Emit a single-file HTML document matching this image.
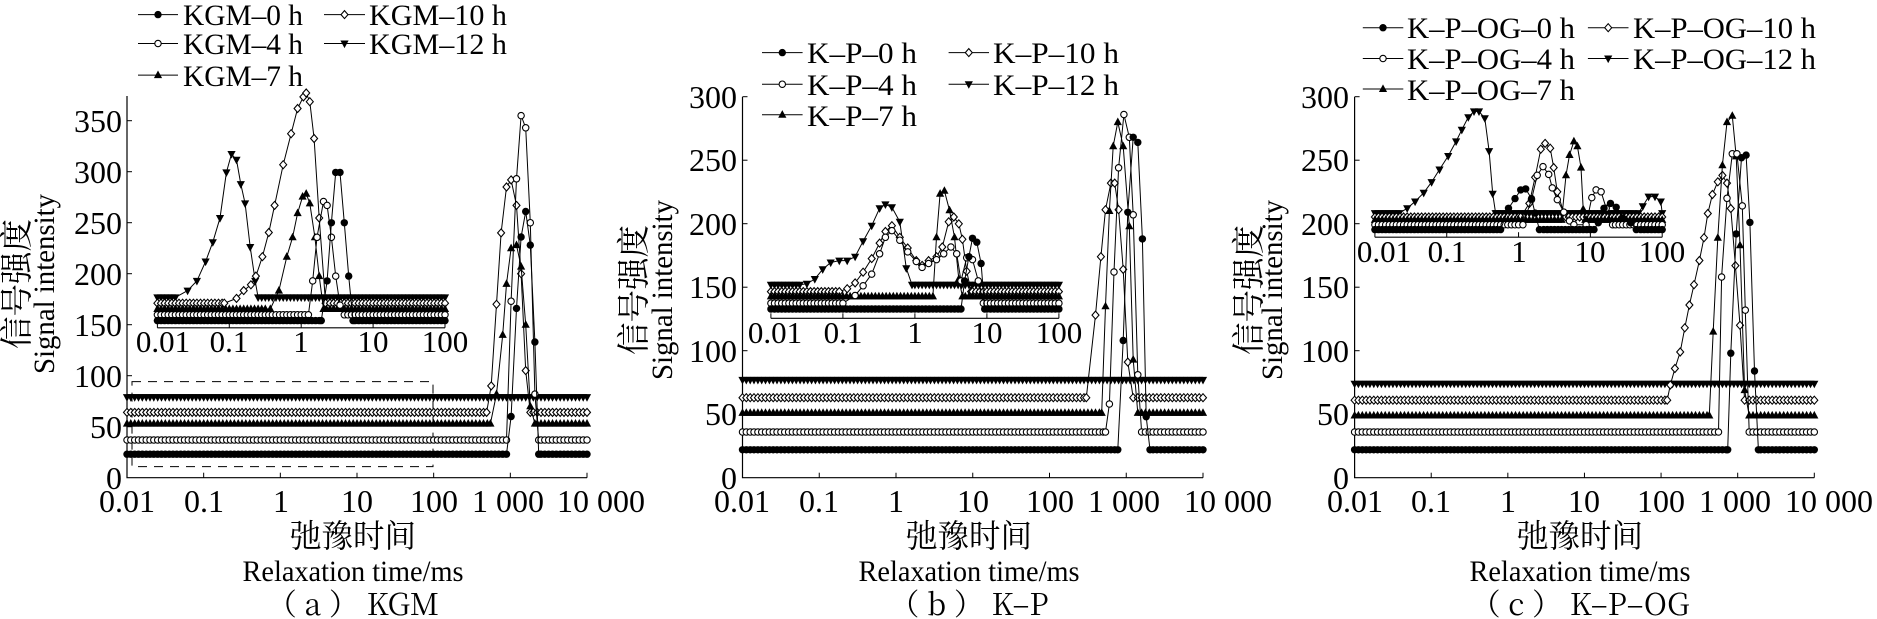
<!DOCTYPE html>
<html><head><meta charset="utf-8">
<style>
html,body{margin:0;padding:0;background:#fff;}
svg{display:block;}
text{font-family:"Liberation Serif","Noto Serif CJK SC",serif;fill:#000;}
.cjk{font-family:"Noto Serif CJK SC","Noto Sans CJK SC",serif;}
</style></head>
<body>
<svg id="s" width="1877" height="619" viewBox="0 0 1877 619" xmlns="http://www.w3.org/2000/svg">
<g font-size="32">
<text x="122" y="489" text-anchor="end">0</text>
<text x="122" y="438" text-anchor="end">50</text>
<text x="122" y="387" text-anchor="end">100</text>
<text x="122" y="336" text-anchor="end">150</text>
<text x="122" y="285" text-anchor="end">200</text>
<text x="122" y="234" text-anchor="end">250</text>
<text x="122" y="183" text-anchor="end">300</text>
<text x="122" y="132" text-anchor="end">350</text>
<text x="737" y="489" text-anchor="end">0</text>
<text x="737" y="425" text-anchor="end">50</text>
<text x="737" y="362" text-anchor="end">100</text>
<text x="737" y="298" text-anchor="end">150</text>
<text x="737" y="235" text-anchor="end">200</text>
<text x="737" y="171" text-anchor="end">250</text>
<text x="737" y="108" text-anchor="end">300</text>
<text x="1349" y="489" text-anchor="end">0</text>
<text x="1349" y="425" text-anchor="end">50</text>
<text x="1349" y="362" text-anchor="end">100</text>
<text x="1349" y="298" text-anchor="end">150</text>
<text x="1349" y="235" text-anchor="end">200</text>
<text x="1349" y="171" text-anchor="end">250</text>
<text x="1349" y="108" text-anchor="end">300</text>
</g>
<g font-size="32" text-anchor="middle">
<text x="127" y="512">0.01</text><text x="204" y="512">0.1</text><text x="281" y="512">1</text><text x="357" y="512">10</text><text x="434" y="512">100</text><text x="508" y="512">1 000</text><text x="557" y="512" text-anchor="start">10 000</text>
<text x="742" y="512">0.01</text><text x="819" y="512">0.1</text><text x="896" y="512">1</text><text x="973" y="512">10</text><text x="1050" y="512">100</text><text x="1124" y="512">1 000</text><text x="1184" y="512" text-anchor="start">10 000</text>
<text x="1355" y="512">0.01</text><text x="1431" y="512">0.1</text><text x="1508" y="512">1</text><text x="1584" y="512">10</text><text x="1661" y="512">100</text><text x="1735" y="512">1 000</text><text x="1785" y="512" text-anchor="start">10 000</text>
</g>
<g font-size="31" text-anchor="middle">
<text x="163" y="352">0.01</text><text x="229" y="352">0.1</text><text x="301" y="352">1</text><text x="373" y="352">10</text><text x="445" y="352">100</text>
<text x="775" y="343">0.01</text><text x="843" y="343">0.1</text><text x="915" y="343">1</text><text x="987" y="343">10</text><text x="1059" y="343">100</text>
<text x="1384" y="262">0.01</text><text x="1447" y="262">0.1</text><text x="1519" y="262">1</text><text x="1590" y="262">10</text><text x="1662" y="262">100</text>
</g>
<g text-anchor="middle">
<text class="cjk" font-size="33" textLength="130" lengthAdjust="spacingAndGlyphs" transform="translate(28,284) rotate(-90)">信号强度</text>
<text font-size="30" textLength="180" lengthAdjust="spacingAndGlyphs" transform="translate(54,284) rotate(-90)">Signal intensity</text>
<text class="cjk" font-size="33" textLength="130" lengthAdjust="spacingAndGlyphs" transform="translate(645,290) rotate(-90)">信号强度</text>
<text font-size="30" textLength="180" lengthAdjust="spacingAndGlyphs" transform="translate(672,290) rotate(-90)">Signal intensity</text>
<text class="cjk" font-size="33" textLength="130" lengthAdjust="spacingAndGlyphs" transform="translate(1260,290) rotate(-90)">信号强度</text>
<text font-size="30" textLength="180" lengthAdjust="spacingAndGlyphs" transform="translate(1282,290) rotate(-90)">Signal intensity</text>
<text class="cjk" font-size="32" textLength="126" lengthAdjust="spacingAndGlyphs" x="353" y="547">弛豫时间</text>
<text font-size="30" textLength="221" lengthAdjust="spacingAndGlyphs" x="353" y="581">Relaxation time/ms</text>
<text font-size="30" x="353" y="615" class="cjk">（ a ） KGM</text>
<text class="cjk" font-size="32" textLength="126" lengthAdjust="spacingAndGlyphs" x="969" y="547">弛豫时间</text>
<text font-size="30" textLength="221" lengthAdjust="spacingAndGlyphs" x="969" y="581">Relaxation time/ms</text>
<text font-size="30" x="969" y="615" class="cjk">（ b ） K–P</text>
<text class="cjk" font-size="32" textLength="126" lengthAdjust="spacingAndGlyphs" x="1580" y="547">弛豫时间</text>
<text font-size="30" textLength="221" lengthAdjust="spacingAndGlyphs" x="1580" y="581">Relaxation time/ms</text>
<text font-size="30" x="1580" y="615" class="cjk">（ c ） K–P–OG</text>
</g>
<g font-size="30">
<text x="183" y="25" textLength="120" lengthAdjust="spacingAndGlyphs">KGM–0 h</text><text x="369" y="25" textLength="138" lengthAdjust="spacingAndGlyphs">KGM–10 h</text>
<text x="183" y="54" textLength="120" lengthAdjust="spacingAndGlyphs">KGM–4 h</text><text x="369" y="54" textLength="138" lengthAdjust="spacingAndGlyphs">KGM–12 h</text>
<text x="183" y="86" textLength="120" lengthAdjust="spacingAndGlyphs">KGM–7 h</text>
<text x="807" y="63" textLength="110" lengthAdjust="spacingAndGlyphs">K–P–0 h</text><text x="993" y="63" textLength="126" lengthAdjust="spacingAndGlyphs">K–P–10 h</text>
<text x="807" y="95" textLength="110" lengthAdjust="spacingAndGlyphs">K–P–4 h</text><text x="993" y="95" textLength="126" lengthAdjust="spacingAndGlyphs">K–P–12 h</text>
<text x="807" y="126" textLength="110" lengthAdjust="spacingAndGlyphs">K–P–7 h</text>
<text x="1407" y="38" textLength="168" lengthAdjust="spacingAndGlyphs">K–P–OG–0 h</text><text x="1633" y="38" textLength="183" lengthAdjust="spacingAndGlyphs">K–P–OG–10 h</text>
<text x="1407" y="69" textLength="168" lengthAdjust="spacingAndGlyphs">K–P–OG–4 h</text><text x="1633" y="69" textLength="183" lengthAdjust="spacingAndGlyphs">K–P–OG–12 h</text>
<text x="1407" y="100" textLength="168" lengthAdjust="spacingAndGlyphs">K–P–OG–7 h</text>
</g>
<g id="g"></g>
</svg>
<script>
var out=[];
function mk(t,x,y){
 x=+x.toFixed(1);y=+y.toFixed(1);
 if(t==0) out.push('<circle cx="'+x+'" cy="'+y+'" r="3.7" fill="#000"/>');
 else if(t==1) out.push('<circle cx="'+x+'" cy="'+y+'" r="3.2" fill="#fff" stroke="#000" stroke-width="1.1"/>');
 else if(t==2) out.push('<path d="M'+x+' '+(y-4.6)+'L'+(x+4.1)+' '+(y+3)+'L'+(x-4.1)+' '+(y+3)+'Z" fill="#000"/>');
 else if(t==3) out.push('<path d="M'+x+' '+(y-4)+'L'+(x+3.5)+' '+y+'L'+x+' '+(y+4)+'L'+(x-3.5)+' '+y+'Z" fill="#fff" stroke="#000" stroke-width="1.1"/>');
 else out.push('<path d="M'+x+' '+(y+4.6)+'L'+(x+4.1)+' '+(y-3)+'L'+(x-4.1)+' '+(y-3)+'Z" fill="#000"/>');
}
function series(t,base,pts,lo,hi,step,fx,fy){
 var segs=[];
 pts.forEach(function(p,i){
  if(i==0||p[0]-pts[i-1][0]>0.3) segs.push([p[0],p[0]]); else segs[segs.length-1][1]=p[0];
 });
 var a=[];
 for(var lt=lo;lt<=hi+1e-9;lt+=step){
  var skip=false;
  segs.forEach(function(s){if(lt>s[0]-0.02&&lt<s[1]+0.02)skip=true;});
  if(!skip)a.push([lt,base]);
 }
 a=a.concat(pts);a.sort(function(p,q){return p[0]-q[0];});
 var d='';
 a.forEach(function(p,i){d+=(i?'L':'M')+fx(p[0]).toFixed(1)+' '+fy(p[1]).toFixed(1);});
 out.push('<path d="'+d+'" fill="none" stroke="#000" stroke-width="1"/>');
 a.forEach(function(p){mk(t,fx(p[0]),fy(p[1]));});
}
function legend(x0,x1,ys){
 ys.forEach(function(y,i){
  out.push('<line x1="'+x0[0]+'" x2="'+x0[1]+'" y1="'+y+'" y2="'+y+'" stroke="#000"/>');mk(i==0?0:i==1?1:2,(x0[0]+x0[1])/2,y);
  if(i<2){out.push('<line x1="'+x1[0]+'" x2="'+x1[1]+'" y1="'+y+'" y2="'+y+'" stroke="#000"/>');mk(i==0?3:4,(x1[0]+x1[1])/2,y);}
 });
}
function axes(ax0,ax1,yb,ytop,ppu,maxv){
 out.push('<path d="M'+ax0+' '+ytop+'V'+yb+'H'+ax1+'" fill="none" stroke="#000" stroke-width="1.2"/>');
 for(var i=0;i<=6;i++){var x=ax0+i*(ax1-ax0)/6;out.push('<line x1="'+x+'" x2="'+x+'" y1="'+yb+'" y2="'+(yb-5)+'" stroke="#000"/>');}
 for(var v=50;v<=maxv;v+=50){var y=yb-v*ppu;out.push('<line x1="'+ax0+'" x2="'+(ax0+5)+'" y1="'+y+'" y2="'+y+'" stroke="#000"/>');}
}
function inAx(x0,x1,yb){
 out.push('<line x1="'+x0+'" x2="'+x1+'" y1="'+yb+'" y2="'+yb+'" stroke="#000" stroke-width="1.2"/>');
 for(var i=0;i<=4;i++){var x=x0+i*(x1-x0)/4;out.push('<line x1="'+x+'" x2="'+x+'" y1="'+yb+'" y2="'+(yb-5)+'" stroke="#000"/>');}
}
var K=0.9687;
(function(){
 var ax0=127,ax1=587,yb=477.7,ppu=51/50;
 axes(ax0,ax1,yb,96,ppu,350);
 var fx=function(l){return ax0+(l+2)*(ax1-ax0)/6},fy=function(v){return yb-v*ppu};
 out.push('<rect x="132" y="381.6" width="301" height="85" fill="none" stroke="#000" stroke-dasharray="9,7"/>');
 series(4,79,[],-2,4,0.05,fx,fy);
 series(3,64,[[2.69,64],[2.75,90],[2.82,170],[2.88,240],[2.95,285],[3.01,292],[3.08,267],[3.14,200],[3.20,105],[3.26,64]],-2,4,0.05,fx,fy);
 series(2,53,[[2.74,53],[2.82,82],[2.90,140],[2.95,190],[3.01,225],[3.08,228],[3.14,207],[3.20,150],[3.26,70],[3.32,53]],-2,4,0.05,fx,fy);
 series(1,37,[[2.95,37],[3.01,173],[3.08,293],[3.14,355],[3.20,343],[3.26,250],[3.32,82],[3.37,37]],-2,4,0.05,fx,fy);
 series(0,23,[[2.95,23],[3.01,60],[3.08,166],[3.14,236],[3.20,261],[3.26,228],[3.32,133],[3.37,23]],-2,4,0.05,fx,fy);
 var i0=157.4,i1=445;
 inAx(i0,i1,327.8);
 var ix=function(l){return i0+(l+2)*(i1-i0)/4},iy=function(y){return y*K};
 series(4,307,[[-1.75,307],[-1.58,300],[-1.45,290],[-1.33,270],[-1.23,250],[-1.13,225],[-1.04,178],[-0.97,159],[-0.90,165],[-0.84,190],[-0.78,210],[-0.71,255],[-0.64,290],[-0.60,307]],-2,2,0.05,ix,iy);
 series(3,313,[[-1.07,313],[-0.90,308],[-0.80,300],[-0.70,294],[-0.63,285],[-0.54,265],[-0.45,240],[-0.37,212],[-0.25,170],[-0.14,138],[-0.05,112],[0.03,100],[0.07,96],[0.12,105],[0.18,143],[0.25,225],[0.34,313]],-2,2,0.05,ix,iy);
 series(2,319,[[-0.43,319],[-0.31,300],[-0.20,265],[-0.12,245],[-0.05,220],[0.02,203],[0.07,200],[0.12,210],[0.19,245],[0.25,285],[0.31,319]],-2,2,0.05,ix,iy);
 series(1,325,[[0.10,325],[0.16,290],[0.22,245],[0.31,208],[0.36,212],[0.42,245],[0.48,285],[0.54,315],[0.60,325]],-2,2,0.05,ix,iy);
 series(0,331,[[0.28,331],[0.36,290],[0.42,230],[0.48,178],[0.54,178],[0.60,230],[0.66,285],[0.72,331]],-2,2,0.05,ix,iy);
 legend([138,178],[324,365],[14.6,43.5,75.1]);
})();
(function(){
 var ax0=742.5,ax1=1203,yb=477.7,ppu=63.5/50;
 axes(ax0,ax1,yb,96.9,ppu,300);
 var fx=function(l){return ax0+(l+2)*(ax1-ax0)/6},fy=function(v){return yb-v*ppu};
 series(4,77,[],-2,4,0.05,fx,fy);
 series(3,63,[[2.48,63],[2.60,128],[2.67,174],[2.73,211],[2.80,232],[2.85,232],[2.90,211],[2.96,164],[3.02,91],[3.09,63]],-2,4,0.05,fx,fy);
 series(2,51,[[2.68,51],[2.73,135],[2.78,210],[2.83,261],[2.89,280],[2.96,261],[3.04,198],[3.09,93],[3.15,51]],-2,4,0.05,fx,fy);
 series(1,36,[[2.73,36],[2.78,58],[2.84,162],[2.90,244],[2.97,286],[3.04,268],[3.09,207],[3.15,81],[3.20,36]],-2,4,0.05,fx,fy);
 series(0,22,[[2.89,22],[2.96,108],[3.02,209],[3.09,268],[3.15,264],[3.21,188],[3.26,48],[3.31,22]],-2,4,0.05,fx,fy);
 var i0=770.9,i1=1058.9;
 inAx(i0,i1,318.3);
 var ix=function(l){return i0+(l+2)*(i1-i0)/4},iy=function(y){return y*K};
 series(4,294,[[-1.60,294],[-1.50,293],[-1.39,288],[-1.28,278],[-1.17,271],[-1.05,269],[-0.94,269],[-0.83,265],[-0.72,249],[-0.60,233],[-0.49,215],[-0.41,211],[-0.32,214],[-0.21,229],[-0.12,277],[-0.04,294]],-2,2,0.05,ix,iy);
 series(3,301,[[-1.05,301],[-0.94,298],[-0.83,292],[-0.72,281],[-0.60,267],[-0.49,251],[-0.41,239],[-0.32,233],[-0.21,245],[-0.10,256],[0.02,269],[0.10,274],[0.19,269],[0.30,265],[0.38,255],[0.47,229],[0.54,224],[0.61,231],[0.66,247],[0.72,280],[0.78,301]],-2,2,0.05,ix,iy);
 series(2,306,[[0.25,306],[0.30,245],[0.35,200],[0.41,197],[0.48,217],[0.55,245],[0.61,288],[0.66,306]],-2,2,0.05,ix,iy);
 series(1,313,[[-1.0,313],[-0.83,305],[-0.72,295],[-0.60,283],[-0.49,262],[-0.41,245],[-0.32,238],[-0.21,248],[-0.10,260],[0.02,270],[0.10,276],[0.19,272],[0.30,268],[0.40,262],[0.50,255],[0.58,262],[0.64,290],[0.72,266],[0.80,268],[0.88,290],[0.95,313]],-2,2,0.05,ix,iy);
 series(0,319,[[0.64,319],[0.69,290],[0.75,265],[0.80,246],[0.86,250],[0.92,272],[0.97,319]],-2,2,0.05,ix,iy);
 legend([762,802.6],[948.6,989],[52.6,84.2,114.7]);
})();
(function(){
 var ax0=1354.6,ax1=1814.3,yb=477.7,ppu=63.5/50;
 axes(ax0,ax1,yb,96.9,ppu,300);
 var fx=function(l){return ax0+(l+2)*(ax1-ax0)/6},fy=function(v){return yb-v*ppu};
 series(4,74,[],-2,4,0.05,fx,fy);
 series(3,61,[[2.08,61],[2.12,73],[2.18,86],[2.25,99],[2.31,118],[2.37,136],[2.43,152],[2.50,171],[2.56,189],[2.61,208],[2.67,223],[2.74,233],[2.80,238],[2.86,232],[2.91,212],[2.97,167],[3.03,120],[3.09,61]],-2,4,0.05,fx,fy);
 series(2,49,[[2.63,49],[2.68,115],[2.74,189],[2.80,246],[2.86,280],[2.93,285],[2.98,253],[3.03,183],[3.09,69],[3.15,49]],-2,4,0.05,fx,fy);
 series(1,36,[[2.75,36],[2.79,158],[2.86,220],[2.93,255],[2.99,255],[3.06,214],[3.10,132],[3.15,36]],-2,4,0.05,fx,fy);
 series(0,22,[[2.87,22],[2.91,98],[2.98,192],[3.05,252],[3.11,254],[3.16,201],[3.22,84],[3.27,22]],-2,4,0.05,fx,fy);
 var i0=1374.9,i1=1662.2;
 inAx(i0,i1,237.2);
 var ix=function(l){return i0+(l+2)*(i1-i0)/4},iy=function(y){return y*K};
 series(4,220,[[-1.66,220],[-1.55,215],[-1.44,208],[-1.32,199],[-1.21,188],[-1.10,175],[-0.98,161],[-0.87,146],[-0.79,134],[-0.70,121],[-0.62,115],[-0.55,115],[-0.47,122],[-0.41,156],[-0.36,200],[-0.32,220],[1.67,220],[1.73,213],[1.81,203],[1.90,203],[1.98,208]],-2,2,0.05,ix,iy);
 series(3,224,[[0.03,224],[0.15,210],[0.23,183],[0.31,154],[0.37,148],[0.44,153],[0.49,173],[0.54,198],[0.63,220],[0.66,224]],-2,2,0.05,ix,iy);
 series(2,227,[[0.60,227],[0.66,181],[0.71,160],[0.77,146],[0.82,151],[0.87,173],[0.90,216],[0.93,227]],-2,2,0.05,ix,iy);
 series(1,232,[[0.06,232],[0.18,206],[0.26,181],[0.34,172],[0.42,180],[0.47,194],[0.54,206],[0.63,219],[0.71,228],[0.77,232],[0.94,232],[1.02,204],[1.08,196],[1.15,198],[1.22,215],[1.31,232]],-2,2,0.05,ix,iy);
 series(0,237,[[-0.25,237],[-0.14,215],[-0.05,205],[0.03,196],[0.10,195],[0.18,205],[0.23,220],[0.29,237],[1.05,237],[1.11,230],[1.19,215],[1.28,210],[1.36,214],[1.45,225],[1.56,230],[1.64,237]],-2,2,0.05,ix,iy);
 legend([1362.8,1403.3],[1587.9,1628.5],[27.7,58.5,89]);
})();
document.getElementById('g').innerHTML=out.join('');
</script>
</body></html>
